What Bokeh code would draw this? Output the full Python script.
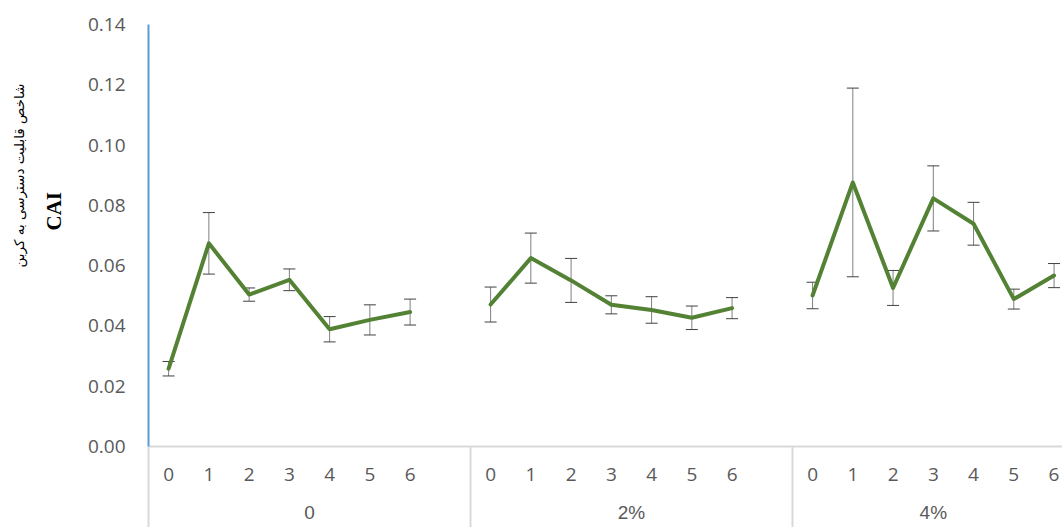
from bokeh.plotting import figure
from bokeh.models import (ColumnDataSource, Range1d, LinearAxis, FixedTicker,
                          NumeralTickFormatter, Whisker, TeeHead, Title)
from bokeh.embed import file_html
from bokeh.resources import INLINE

# Biochar rate groups and sampling times
groups = ["0", "2%", "4%"]
times = ["0", "1", "2", "3", "4", "5", "6"]

# Carbon availability index (CAI), mean per time, for each group
cai_0 = [0.0258, 0.0674, 0.0504, 0.0553, 0.0389, 0.0420, 0.0446]
cai_2 = [0.0471, 0.0625, 0.0551, 0.0470, 0.0453, 0.0427, 0.0459]
cai_4 = [0.0501, 0.0876, 0.0526, 0.0823, 0.0739, 0.0489, 0.0567]

# Standard errors
err_0 = [0.0024, 0.0102, 0.0022, 0.0036, 0.0042, 0.0050, 0.0043]
err_2 = [0.0058, 0.0083, 0.0073, 0.0030, 0.0044, 0.0039, 0.0035]
err_4 = [0.0044, 0.0313, 0.0058, 0.0108, 0.0071, 0.0033, 0.0040]

y_ticks = [0.00, 0.02, 0.04, 0.06, 0.08, 0.10, 0.12, 0.14]

series = [cai_0, cai_2, cai_4]
errors = [err_0, err_2, err_4]

# each group occupies 8 slots: 7 sampling times plus one empty slot
SLOTS = 8
GREEN = "#548235"
GREY_TXT = "#595959"
FONT = "Open Sans"
FSIZE = "19px"

p = figure(width=1062, height=527,
           x_range=Range1d(0, 22.71), y_range=Range1d(0, 0.14),
           x_axis_type=None, y_axis_type=None,
           toolbar_location=None, output_backend="svg",
           min_border_left=148, min_border_right=0,
           min_border_top=24, min_border_bottom=81)
p.outline_line_color = None
p.background_fill_color = "white"
p.border_fill_color = "white"

# y axis
yax = LinearAxis(ticker=FixedTicker(ticks=y_ticks),
                 formatter=NumeralTickFormatter(format="0.00"))
yax.axis_line_color = "#5B9BD5"
yax.axis_line_width = 2
yax.major_tick_line_color = None
yax.minor_tick_line_color = None
yax.major_label_standoff = 17
yax.major_label_text_color = GREY_TXT
yax.major_label_text_font = FONT
yax.major_label_text_font_size = FSIZE
p.add_layout(yax, "left")

# y axis titles: "CAI" next to the ticks, the Persian name further out
p.add_layout(Title(text="CAI", align="left", offset=216, standoff=38,
                   text_font="Liberation Serif", text_font_style="bold",
                   text_font_size="21px", text_color="black"), "left")
p.add_layout(Title(text="شاخص قابلیت دسترسی به کربن", align="left", offset=179,
                   standoff=-12, text_font="DejaVu Sans",
                   text_font_style="normal", text_font_size="13.5px",
                   text_color="black"), "left")

# x axis: sampling times, with group separators drawn as long minor ticks
centers = []
overrides = {}
for g in range(len(groups)):
    for i, t in enumerate(times):
        c = g * SLOTS + i + 0.5
        centers.append(c)
        overrides[c] = t
separators = [g * SLOTS for g in range(len(groups))]

xax = LinearAxis(ticker=FixedTicker(ticks=centers, minor_ticks=separators),
                 major_label_overrides=overrides)
xax.axis_line_color = "#D9D9D9"
xax.axis_line_width = 2
xax.major_tick_line_color = None
xax.minor_tick_line_color = "#D9D9D9"
xax.minor_tick_line_width = 2
xax.minor_tick_in = 0
xax.minor_tick_out = 81
xax.major_label_standoff = -60
xax.major_label_text_color = GREY_TXT
xax.major_label_text_font = FONT
xax.major_label_text_font_size = FSIZE
p.add_layout(xax, "below")

# x axis: group labels
group_pos = [4.0, 12.0, 19.5]
gax = LinearAxis(ticker=FixedTicker(ticks=group_pos),
                 major_label_overrides={pos: name for pos, name in zip(group_pos, groups)})
gax.axis_line_color = None
gax.major_tick_line_color = None
gax.minor_tick_line_color = None
gax.major_label_standoff = 12
gax.major_label_text_color = GREY_TXT
gax.major_label_text_font = "Liberation Sans"
gax.major_label_text_font_size = FSIZE
p.add_layout(gax, "below")

# error bars and lines, one trace per group
for g, (vals, errs) in enumerate(zip(series, errors)):
    xs = [g * SLOTS + i + 0.5 for i in range(len(times))]
    src = ColumnDataSource(dict(
        x=xs, y=vals,
        upper=[v + e for v, e in zip(vals, errs)],
        lower=[v - e for v, e in zip(vals, errs)],
    ))
    w = Whisker(base="x", upper="upper", lower="lower", source=src,
                line_color="#7F7F7F", line_width=1, level="underlay",
                upper_head=TeeHead(size=12, line_color="#404040", line_width=1),
                lower_head=TeeHead(size=12, line_color="#404040", line_width=1))
    p.add_layout(w)
    p.line("x", "y", source=src, line_color=GREEN, line_width=4,
           line_join="round", line_cap="round")

open("out.html", "w").write(file_html(p, INLINE))
